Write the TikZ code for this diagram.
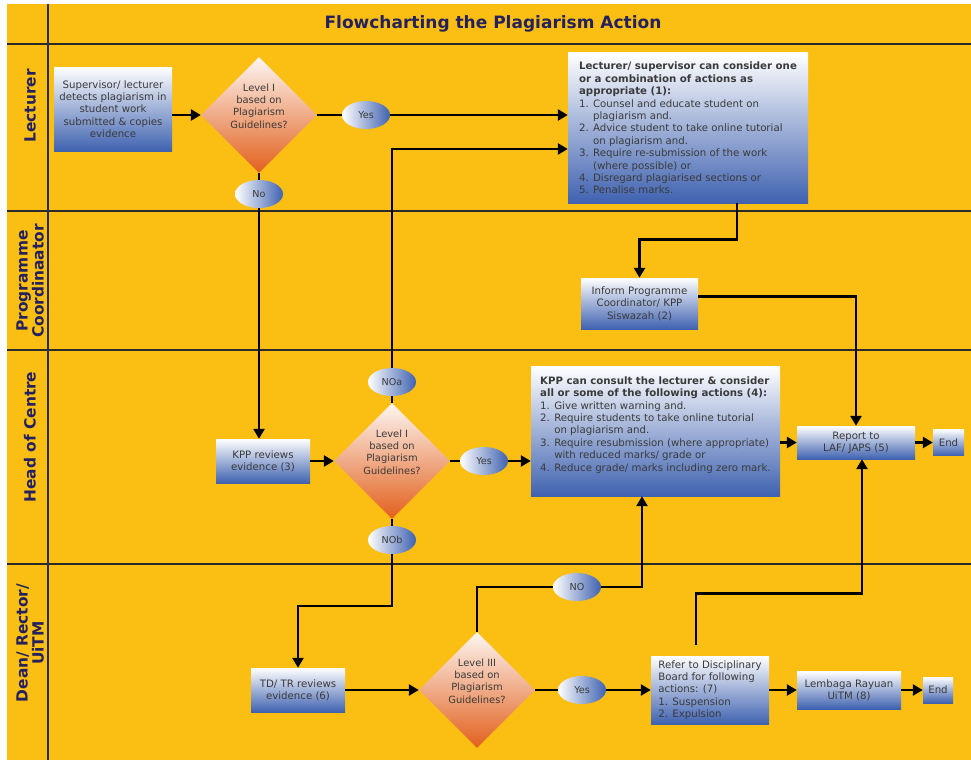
\documentclass[tikz,border=0pt]{standalone}
\usepackage{fontspec}
\setmainfont{DejaVu Sans}
\usetikzlibrary{arrows.meta,shapes.geometric}
\definecolor{laneyellow}{HTML}{FBBF14}
\definecolor{boxblue}{HTML}{3F62B0}
\definecolor{qorange}{HTML}{E2601C}
\definecolor{navy}{HTML}{25215E}
\definecolor{txtgrey}{HTML}{3A3A3A}
\definecolor{laneline}{HTML}{2B2B2B}

\begin{document}
\begin{tikzpicture}[x=1pt,y=-1pt,>={Triangle[length=10pt,width=11pt]},
  actbox/.style={top color=white,bottom color=boxblue,text=txtgrey,font=\fontsize{10.2}{12.4}\selectfont,align=center,inner sep=2pt},
  listbox/.style={actbox,align=left},
  question/.style={diamond,minimum width=116pt,minimum height=116pt,inner sep=-4pt,top color=qorange!6,bottom color=qorange,text=txtgrey,font=\fontsize{9.9}{12.4}\selectfont,align=center,text depth=18pt},
  answer/.style={ellipse,minimum width=48pt,minimum height=28pt,inner sep=0pt,left color=white,right color=boxblue,text=txtgrey,font=\fontsize{9.6}{10}\selectfont},
  lanelabel/.style={rotate=90,text=navy,font=\fontsize{15.4}{16}\selectfont\bfseries,align=center},
  lane/.style={draw=laneline,line width=2pt},
  flow/.style={line width=2.8pt,black}]
\useasboundingbox (0,0) rectangle (971,760);
% swimlanes
\fill[laneyellow] (7,4) rectangle (971,760);
\draw[lane] (7,44) -- (971,44);
\draw[lane] (7,211) -- (971,211);
\draw[lane] (7,350) -- (971,350);
\draw[lane] (7,564) -- (971,564);
\draw[lane] (48,4) -- (48,760);
\node[text=navy,font=\fontsize{17}{19}\selectfont\bfseries] (fc_title) at (493,24) {Flowcharting the Plagiarism Action};
\node[lanelabel] (ln_lec) at (30,106) {Lecturer};
\node[lanelabel] (ln_prog) at (30,281) {Programme\\Coordinaator};
\node[lanelabel] (ln_head) at (30,437) {Head of Centre};
\node[lanelabel] (ln_dean) at (30,643) {Dean/ Rector/\\UiTM};

% lecturer
\node[actbox,minimum width=118pt,minimum height=84pt] (fc_det) at (113,109) {Supervisor/ lecturer\\detects plagiarism in\\student work\\submitted \& copies\\evidence};
\node[question] (fc_q1) at (259,115) {Level I\\based on\\Plagiarism\\Guidelines?};
\node[answer] (fc_y1) at (366,115) {Yes};
\node[answer] (fc_n1) at (259,194) {No};
\node[listbox,minimum width=240pt,minimum height=150pt] (fc_act1) at (688,128) {\textbf{Lecturer/ supervisor can consider one}\\\textbf{or a combination of actions as}\\\textbf{appropriate (1):}\\1. Counsel and educate student on\\\phantom{1. }plagiarism and.\\2. Advice student to take online tutorial\\\phantom{2. }on plagiarism and.\\3. Require re-submission of the work\\\phantom{3. }(where possible) or\\4. Disregard plagiarised sections or\\5. Penalise marks.};

% programme coordinator
\node[actbox,minimum width=117pt,minimum height=51pt] (fc_inf) at (639.5,303.5) {Inform Programme\\Coordinator/ KPP\\Siswazah (2)};

% head of centre
\node[actbox,minimum width=94pt,minimum height=44pt] (fc_kpp) at (263,461) {KPP reviews\\evidence (3)};
\node[question] (fc_q2) at (392,461) {Level I\\based on\\Plagiarism\\Guidelines?};
\node[answer] (fc_na) at (392,382) {NOa};
\node[answer] (fc_nb) at (392,540) {NOb};
\node[answer] (fc_y2) at (484,461) {Yes};
\node[listbox,minimum width=249pt,minimum height=130pt,text depth=14.5pt] (fc_act2) at (655.5,431) {\textbf{KPP can consult the lecturer \& consider}\\\textbf{all or some of the following actions (4):}\\1. Give written warning and.\\2. Require students to take online tutorial\\\phantom{2. }on plagiarism and.\\3. Require resubmission (where appropriate)\\\phantom{3. }with reduced marks/ grade or\\4. Reduce grade/ marks including zero mark.};
\node[actbox,minimum width=118pt,minimum height=33pt] (fc_rep) at (856,442.5) {Report to\\LAF/ JAPS (5)};
\node[actbox,minimum width=31pt,minimum height=26pt] (fc_end1) at (948.5,442.5) {End};

% dean / rector
\node[actbox,minimum width=94pt,minimum height=44pt] (fc_td) at (298,690) {TD/ TR reviews\\evidence (6)};
\node[question] (fc_q3) at (477,690) {Level III\\based on\\Plagiarism\\Guidelines?};
\node[answer] (fc_n3) at (577,587) {NO};
\node[answer] (fc_y3) at (582,690) {Yes};
\node[listbox,minimum width=118pt,minimum height=68pt] (fc_ref) at (710,690) {Refer to Disciplinary\\Board for following\\actions: (7)\\1. Suspension\\2. Expulsion};
\node[actbox,minimum width=104pt,minimum height=38pt] (fc_lem) at (849,690) {Lembaga Rayuan\\UiTM (8)};
\node[actbox,minimum width=30pt,minimum height=26pt] (fc_end2) at (938,690) {End};

% connectors
\draw[flow,->] (fc_det.east |- fc_q1) -- (fc_q1);
\draw[flow] (fc_q1) -- (fc_y1);
\draw[flow,->] (fc_y1) -- (fc_y1 -| fc_act1.west);
\draw[flow] (fc_q1) -- (fc_n1);
\draw[flow,->] (fc_n1) -- (fc_n1 |- fc_kpp.north);
\draw[flow,->] ([xshift=49pt]fc_act1.south) -- ++(0,36) -| (fc_inf.north);
\draw[flow,->] ([yshift=7pt]fc_inf.east) -| (fc_rep.north);
\draw[flow,->] (fc_kpp) -- (fc_q2);
\draw[flow] (fc_q2) -- (fc_na);
\draw[flow,->] (fc_na) |- (fc_act1.west |- 0,149);
\draw[flow] (fc_q2) -- (fc_y2);
\draw[flow,->] (fc_y2) -- (fc_y2 -| fc_act2.west);
\draw[flow,->] (fc_act2.east |- fc_rep) -- (fc_rep);
\draw[flow,->] (fc_rep) -- (fc_end1);
\draw[flow] (fc_q2) -- (fc_nb);
\draw[flow,->] (fc_nb) -- ++(0,66) -| (fc_td.north);
\draw[flow,->] (fc_td) -- (fc_q3);
\draw[flow] (fc_q3.north) |- (fc_n3);
\draw[flow,->] (fc_n3) -| ([xshift=-13.5pt]fc_act2.south);
\draw[flow] (fc_q3) -- (fc_y3);
\draw[flow,->] (fc_y3) -- (fc_ref);
\draw[flow,->] ([xshift=-14pt,yshift=11pt]fc_ref.north) -- ++(0,-51) -| ([xshift=6pt]fc_rep.south);
\draw[flow,->] (fc_ref) -- (fc_lem);
\draw[flow,->] (fc_lem) -- (fc_end2);
\end{tikzpicture}
\end{document}
